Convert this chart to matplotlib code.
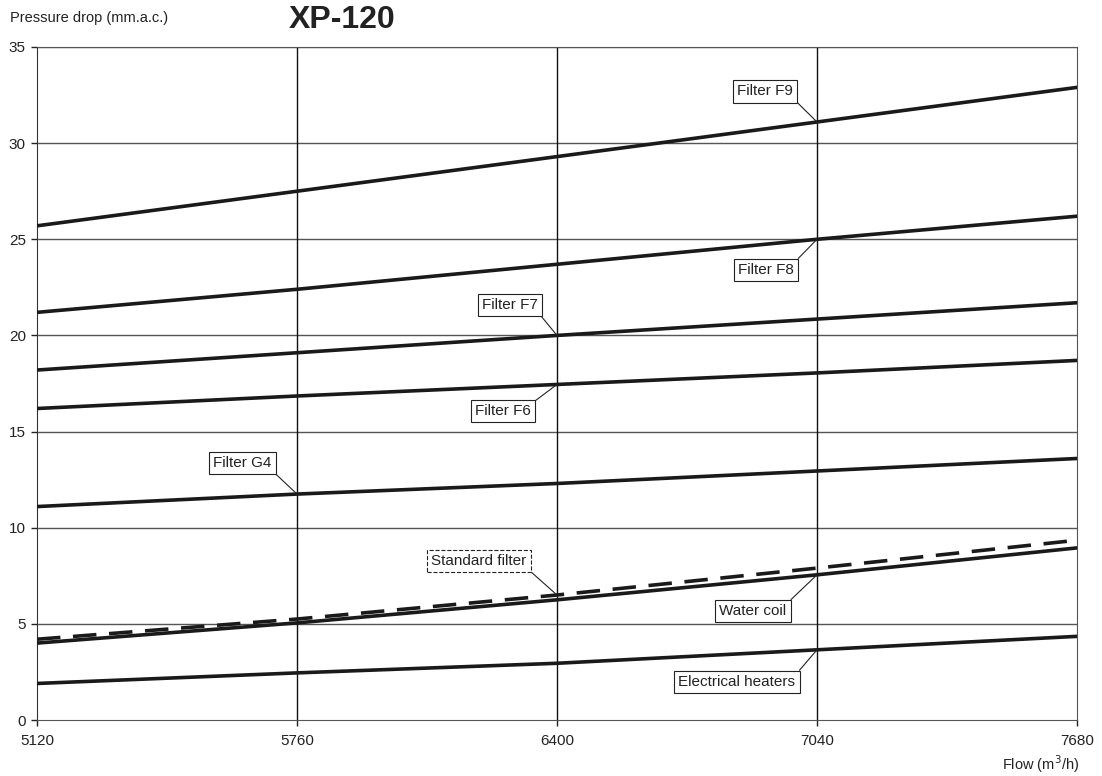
import matplotlib.pyplot as plt

plt.rcParams['font.family'] = ['Liberation Sans', 'DejaVu Sans']

flow = [5120, 5760, 6400, 7040, 7680]

filter_f9 = [25.7, 27.5, 29.3, 31.1, 32.9]
filter_f8 = [21.2, 22.4, 23.7, 25.0, 26.2]
filter_f7 = [18.2, 19.1, 20.0, 20.85, 21.7]
filter_f6 = [16.2, 16.85, 17.45, 18.05, 18.7]
filter_g4 = [11.1, 11.75, 12.3, 12.95, 13.6]
standard_filter = [4.2, 5.25, 6.5, 7.9, 9.35]
water_coil = [4.0, 5.05, 6.25, 7.55, 8.95]
electrical_heaters = [1.9, 2.45, 2.95, 3.65, 4.35]

x_ticks = [5120, 5760, 6400, 7040, 7680]
y_ticks = [0, 5, 10, 15, 20, 25, 30, 35]

fig = plt.figure(figsize=(11.02, 7.76), dpi=100)
ax = fig.add_axes([37 / 1102, 56 / 776, 1040 / 1102, 673 / 776])

ax.set_xlim(5120, 7680)
ax.set_ylim(0, 35)
ax.set_xticks(x_ticks)
ax.set_yticks(y_ticks)
ax.tick_params(direction='out', length=4, width=1, labelsize=11, colors='#222222')
ax.tick_params(axis='x', pad=6)
ax.tick_params(axis='y', pad=4)

for y in y_ticks[1:]:
    ax.axhline(y, color='#555555', lw=1, zorder=1)
for x in x_ticks[1:-1]:
    ax.axvline(x, color='#111111', lw=1, zorder=1)

for s in ['top', 'right', 'bottom']:
    ax.spines[s].set_color('#555555')
ax.spines['left'].set_color('#333333')

solid = [filter_f9, filter_f8, filter_f7, filter_f6, filter_g4, water_coil, electrical_heaters]
for vals in solid:
    ax.plot(flow, vals, color='#1a1a1a', lw=2.6, zorder=3)
ax.plot(flow, standard_filter, color='#1a1a1a', lw=2.6, dashes=(6.5, 3.5), zorder=3)

# labels: (text, series, index of point, text position, corner of box the leader starts from, box style)
labels = [
    ('Filter F9', filter_f9, 3, (6912, 32.7), (1, 0), 'solid'),
    ('Filter F8', filter_f8, 3, (6914, 23.4), (1, 1), 'solid'),
    ('Filter F7', filter_f7, 2, (6284, 21.58), (1, 0), 'solid'),
    ('Filter F6', filter_f6, 2, (6267, 16.07), (1, 1), 'solid'),
    ('Filter G4', filter_g4, 1, (5625, 13.37), (1, 0), 'solid'),
    ('Standard filter', standard_filter, 2, (6208, 8.27), (1, 0), 'dashed'),
    ('Water coil', water_coil, 3, (6882, 5.67), (1, 1), 'solid'),
    ('Electrical heaters', electrical_heaters, 3, (6843, 1.98), (1, 1), 'solid'),
]
for text, vals, i, pos, rel, ls in labels:
    ax.annotate(text, xy=(flow[i], vals[i]), xytext=pos, textcoords='data',
                ha='center', va='center', fontsize=11, color='#222222', zorder=5,
                bbox=dict(boxstyle='square,pad=0.28', fc='white', ec='#222222', lw=0.8, ls=ls),
                arrowprops=dict(arrowstyle='-', color='#222222', lw=0.8, relpos=rel,
                                shrinkA=0, shrinkB=0))

fig.text(10 / 1102, 1 - 18 / 776, 'Pressure drop (mm.a.c.)', fontsize=10.5,
         color='#222222', va='center', ha='left')
fig.text(342 / 1102, 1 - 20 / 776, 'XP-120', fontsize=23, fontweight='bold',
         color='#222222', va='center', ha='center')
fig.text(1079 / 1102, 1 - 764 / 776, 'Flow (m$^3$/h)', fontsize=10.5,
         color='#222222', va='center', ha='right')

fig.savefig('out.png', dpi=100)
